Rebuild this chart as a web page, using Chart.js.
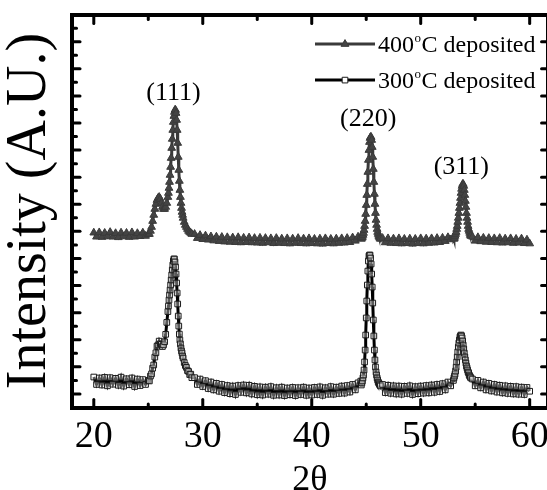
<!DOCTYPE html>
<html>
<head>
<meta charset="utf-8">
<script src="https://cdn.jsdelivr.net/npm/chart.js@4.4.1/dist/chart.umd.min.js"></script>
<style>
  html, body { margin: 0; padding: 0; background: #fff; overflow: hidden; }
  #wrap { width: 547px; height: 490px; overflow: hidden; }
  canvas { display: block; }
</style>
</head>
<body>
<div id="wrap"><canvas id="xrd" width="556" height="490"></canvas></div>
<script>
// 2theta grid (degrees), finer around the three reflections
const twoTheta = [
  20, 20.25, 20.5, 20.75, 21, 21.25, 21.5, 21.75, 22, 22.25, 22.5, 22.75, 23, 23.25, 23.5, 23.75, 24, 24.25, 24.5, 24.75, 25,
  25.1, 25.2, 25.3, 25.4, 25.5, 25.6, 25.7, 25.8, 25.9, 26, 26.1, 26.2, 26.3, 26.4, 26.5, 26.6, 26.7, 26.8,
  26.85, 26.9, 26.95, 27, 27.05, 27.1, 27.15, 27.2, 27.25, 27.3, 27.35, 27.4, 27.45, 27.5, 27.55, 27.6, 27.65, 27.7, 27.75, 27.8, 27.85, 27.9, 27.95, 28, 28.05, 28.1, 28.15, 28.2,
  28.3, 28.4, 28.5, 28.6, 28.7, 28.8, 28.9, 29,
  29.25, 29.5, 29.75, 30, 30.25, 30.5, 30.75, 31, 31.25, 31.5, 31.75, 32, 32.25, 32.5, 32.75, 33, 33.25, 33.5, 33.75, 34, 34.25, 34.5, 34.75, 35, 35.25, 35.5, 35.75, 36, 36.25, 36.5, 36.75,
  37, 37.25, 37.5, 37.75, 38, 38.25, 38.5, 38.75, 39, 39.25, 39.5, 39.75, 40, 40.25, 40.5, 40.75, 41, 41.25, 41.5, 41.75, 42, 42.25, 42.5, 42.75, 43, 43.25, 43.5, 43.75, 44, 44.25, 44.5,
  44.55, 44.6, 44.65, 44.7, 44.75, 44.8, 44.85, 44.9, 44.95, 45, 45.05, 45.1, 45.15, 45.2, 45.25, 45.3, 45.35, 45.4, 45.45, 45.5, 45.55, 45.6, 45.65, 45.7, 45.75, 45.8, 45.85, 45.9, 45.95, 46, 46.05, 46.1, 46.15, 46.2, 46.25, 46.3,
  46.5, 46.75, 47, 47.25, 47.5, 47.75, 48, 48.25, 48.5, 48.75, 49, 49.25, 49.5, 49.75, 50, 50.25, 50.5, 50.75, 51, 51.25, 51.5, 51.75, 52, 52.25, 52.5, 52.75, 53,
  53.05, 53.1, 53.15, 53.2, 53.25, 53.3, 53.35, 53.4, 53.45, 53.5, 53.55, 53.6, 53.65, 53.7, 53.75, 53.8, 53.85, 53.9, 53.95, 54, 54.05, 54.1, 54.15, 54.2, 54.25, 54.3, 54.35, 54.4, 54.45, 54.5, 54.55, 54.6,
  54.75, 55, 55.25, 55.5, 55.75, 56, 56.25, 56.5, 56.75, 57, 57.25, 57.5, 57.75, 58, 58.25, 58.5, 58.75, 59, 59.25, 59.5, 59.75, 60
];

// 400 C deposited film (offset upwards in the plot)
const i400 = [
  1190, 1160, 1192, 1158, 1188, 1162, 1194, 1160, 1186, 1156, 1190, 1162, 1188, 1158, 1192, 1160, 1186, 1164, 1190, 1166, 1180,
  1180, 1203, 1232, 1276, 1321, 1365, 1402, 1431, 1446, 1453, 1439, 1409, 1380, 1365, 1365, 1380, 1409, 1453,
  1483, 1520, 1564, 1616, 1675, 1741, 1815, 1882, 1948, 2007, 2051, 2081, 2096, 2096, 2073, 2022, 1948, 1852, 1749, 1653, 1572, 1505, 1453, 1409, 1372, 1343, 1321, 1299,
  1269, 1247, 1232, 1217, 1203, 1195, 1188, 1180,
  1180, 1150, 1172, 1142, 1168, 1138, 1162, 1132, 1160, 1128, 1158, 1124, 1156, 1122, 1154, 1120, 1156, 1118, 1152, 1120, 1154, 1118, 1150, 1116, 1152, 1114, 1150, 1118, 1148, 1112, 1150,
  1114, 1146, 1112, 1148, 1110, 1146, 1114, 1150, 1112, 1146, 1110, 1148, 1112, 1144, 1110, 1146, 1108, 1148, 1112, 1144, 1110, 1146, 1114, 1148, 1116, 1150, 1120, 1154, 1130, 1160, 1162,
  1144, 1151, 1158, 1173, 1188, 1210, 1239, 1276, 1328, 1394, 1468, 1549, 1638, 1727, 1800, 1859, 1889, 1896, 1896, 1874, 1822, 1749, 1660, 1564, 1476, 1402, 1335, 1284, 1247, 1217, 1195, 1180, 1166, 1158, 1151, 1144,
  1150, 1118, 1148, 1114, 1146, 1112, 1148, 1110, 1144, 1112, 1146, 1108, 1144, 1112, 1148, 1110, 1146, 1114, 1148, 1116, 1150, 1120, 1152, 1128, 1156, 1140, 1158,
  1144, 1151, 1166, 1180, 1195, 1217, 1239, 1269, 1299, 1335, 1372, 1409, 1446, 1483, 1513, 1535, 1549, 1549, 1535, 1505, 1468, 1424, 1380, 1335, 1299, 1269, 1239, 1217, 1203, 1188, 1173, 1166,
  1160, 1130, 1156, 1126, 1152, 1122, 1150, 1120, 1148, 1118, 1150, 1116, 1146, 1118, 1148, 1114, 1144, 1116, 1146, 1112, 1138, 1110
];

// 300 C deposited film
const i300 = [
  125, 70, 118, 66, 122, 60, 120, 72, 115, 64, 124, 58, 112, 68, 118, 55, 110, 62, 106, 70, 100,
  96, 132, 148, 190, 214, 272, 304, 352, 362, 390, 370, 366, 350, 362, 385, 440, 528, 608,
  649, 693, 730, 767, 804, 841, 878, 915, 952, 981, 996, 996, 974, 937, 885, 819, 745, 664, 575, 501, 442, 398, 369, 339, 317, 302, 280, 265,
  232, 210, 196, 172, 166, 143, 146, 120,
  120, 70, 110, 55, 98, 40, 88, 30, 78, 20, 70, 10, 62, 2, 58, -4, 62, 12, 66, 8, 64, 0, 56, -6, 52, -8, 50, -2, 54, -10, 46,
  -8, 50, -12, 44, -6, 48, -12, 46, -4, 50, -10, 44, -8, 48, -4, 52, -10, 46, -2, 54, -2, 50, 4, 58, 6, 62, 14, 70, 30, 82, 95,
  66, 81, 96, 118, 140, 177, 236, 324, 435, 561, 686, 804, 907, 981, 1018, 1025, 1025, 1003, 959, 885, 789, 671, 546, 428, 324, 251, 199, 162, 140, 118, 103, 88, 81, 73, 66, 59,
  70, 10, 64, 5, 60, 0, 58, -2, 56, 4, 60, -4, 54, 2, 58, 6, 62, 8, 66, 12, 70, 18, 76, 30, 88, 60, 100,
  118, 132, 147, 169, 198, 236, 273, 310, 346, 376, 398, 420, 428, 435, 428, 413, 391, 361, 332, 302, 273, 251, 228, 206, 192, 177, 162, 155, 140, 132, 125, 118,
  110, 60, 100, 45, 88, 30, 78, 22, 70, 14, 64, 8, 60, 4, 56, 0, 54, -2, 50, -4, 48, 20
];

const seriesTemps = ['400', '300'];
const xTicks = [20, 25, 30, 35, 40, 45, 50, 55, 60];
const xTickLabels = [20, 30, 40, 50, 60];
const peakNames = ['(111)', '(220)', '(311)'];
const peakNameX = [27.32, 45.18, 53.73];
const peakNameY = [2221, 2025, 1675];

if (twoTheta.length !== i400.length || twoTheta.length !== i300.length) {
  console.log('length mismatch', twoTheta.length, i400.length, i300.length);
}

const SERIF = '"Liberation Serif", "Times New Roman", serif';

const toPoints = ys => twoTheta.map((t, i) => ({ x: t, y: ys[i] }));
const setXTicks = s => { s.ticks = xTicks.map(v => ({ value: v })); };

// ticks pointing into the plot on all four sides
const innerTicks = {
  id: 'innerTicks',
  afterDraw(chart) {
    const ctx = chart.ctx;
    const { x, x2, y, y2 } = chart.scales;
    const seg = (a, b, c, d) => { ctx.beginPath(); ctx.moveTo(a, b); ctx.lineTo(c, d); ctx.stroke(); };
    const near = (v, m) => Math.abs(v / m - Math.round(v / m)) < 1e-6;
    ctx.save();
    ctx.strokeStyle = '#000';
    ctx.lineWidth = 3;
    ctx.lineCap = 'round';
    x.ticks.forEach(t => {
      const major = near(t.value, 10);
      const p = x.getPixelForValue(t.value);
      seg(p, x.top, p, x.top - (major ? 8 : 3.5));
      const q = x2.getPixelForValue(t.value);
      seg(q, x2.bottom, q, x2.bottom + (major ? 9 : 5));
    });
    y.ticks.forEach(t => {
      if (t.value <= y.min || t.value >= y.max) return;
      const major = near(t.value, 200);
      const p = y.getPixelForValue(t.value);
      seg(y.right, p, y.right + (major ? 8 : 4.5), p);
      if (major) seg(y2.left, p, y2.left - 6, p);
    });
    ctx.restore();
  }
};

// hkl labels and the legend drawn inside the frame
const annotations = {
  id: 'annotations',
  afterDatasetsDraw(chart) {
    const ctx = chart.ctx;
    const { x, y } = chart.scales;
    const area = chart.chartArea;
    ctx.save();
    ctx.fillStyle = '#000';
    ctx.font = '26px ' + SERIF;
    ctx.textAlign = 'center';
    ctx.textBaseline = 'middle';
    peakNames.forEach((name, i) => {
      ctx.fillText(name, x.getPixelForValue(peakNameX[i]), y.getPixelForValue(peakNameY[i]));
    });

    ctx.textAlign = 'left';
    ctx.textBaseline = 'alphabetic';
    chart.data.datasets.forEach((ds, i) => {
      const cy = area.top + 29.5 + i * 36;
      const x0 = area.left + 243, x1 = area.left + 303;
      ctx.strokeStyle = ds.borderColor;
      ctx.lineWidth = 3;
      ctx.beginPath(); ctx.moveTo(x0, cy); ctx.lineTo(x1, cy); ctx.stroke();
      ctx.fillStyle = i === 1 ? '#fff' : ds.pointBackgroundColor;
      ctx.strokeStyle = ds.pointBorderColor;
      ctx.lineWidth = ds.pointBorderWidth;
      Chart.helpers.drawPoint(ctx, { pointStyle: ds.pointStyle, radius: ds.pointRadius, borderWidth: ds.pointBorderWidth, rotation: 0 }, (x0 + x1) / 2, cy);
      ctx.fillStyle = '#000';
      let tx = x1 + 3;
      const base = cy + 8;
      ctx.font = '24px ' + SERIF;
      ctx.fillText(seriesTemps[i], tx, base);
      tx += ctx.measureText(seriesTemps[i]).width + 0.5;
      ctx.font = '13px ' + SERIF;
      ctx.fillText('o', tx, base - 10);
      tx += ctx.measureText('o').width + 0.5;
      ctx.font = '24px ' + SERIF;
      ctx.fillText('C deposited', tx, base);
    });
    ctx.restore();
  }
};

new Chart(document.getElementById('xrd'), {
  type: 'line',
  data: {
    datasets: [
      {
        label: '400°C deposited',
        data: toPoints(i400),
        borderColor: '#3a3a3a',
        borderWidth: 3,
        pointStyle: 'triangle',
        pointRadius: 4.5,
        pointBackgroundColor: '#444',
        pointBorderColor: '#3a3a3a',
        pointBorderWidth: 1
      },
      {
        label: '300°C deposited',
        data: toPoints(i300),
        borderColor: '#000',
        borderWidth: 3,
        pointStyle: 'rect',
        pointRadius: 4,
        pointBackgroundColor: 'rgba(255,255,255,0.35)',
        pointBorderColor: '#1a1a1a',
        pointBorderWidth: 1
      }
    ]
  },
  options: {
    responsive: false,
    animation: false,
    devicePixelRatio: 1,
    layout: { padding: 0 },
    plugins: { legend: { display: false }, tooltip: { enabled: false } },
    scales: {
      x: {
        type: 'linear',
        position: 'bottom',
        min: 18,
        max: 61.64,
        afterBuildTicks: setXTicks,
        afterFit: s => { s.height = 82.5; },
        grid: { drawOnChartArea: false, drawTicks: false },
        border: { color: '#000', width: 4 },
        ticks: {
          autoSkip: false,
          maxRotation: 0,
          padding: 7,
          color: '#000',
          font: { family: SERIF, size: 38 },
          callback: v => xTickLabels.includes(v) ? String(v) : ''
        },
        title: {
          display: true,
          text: '2θ',
          color: '#000',
          font: { family: SERIF, size: 36, lineHeight: 1 },
          padding: { top: 0, bottom: -9 }
        }
      },
      x2: {
        type: 'linear',
        position: 'top',
        min: 18,
        max: 61.64,
        afterBuildTicks: setXTicks,
        afterFit: s => { s.height = 14.6; },
        grid: { drawOnChartArea: false, drawTicks: false },
        border: { color: '#000', width: 4 },
        ticks: { display: false }
      },
      y: {
        type: 'linear',
        position: 'left',
        min: -100,
        max: 2800,
        afterFit: s => { s.width = 72; },
        grid: { drawOnChartArea: false, drawTicks: false },
        border: { color: '#000', width: 4 },
        ticks: { display: false, stepSize: 100 },
        title: {
          display: true,
          text: 'Intensity (A.U.)',
          color: '#000',
          font: { family: SERIF, size: 56, lineHeight: 1 },
          padding: { top: 2, bottom: 0 }
        }
      },
      y2: {
        type: 'linear',
        position: 'right',
        min: -100,
        max: 2800,
        afterFit: s => { s.width = 4; },
        grid: { drawOnChartArea: false, drawTicks: false },
        border: { color: '#000', width: 4 },
        ticks: { display: false, stepSize: 100 }
      }
    }
  },
  plugins: [annotations, innerTicks]
});
</script>
</body>
</html>
